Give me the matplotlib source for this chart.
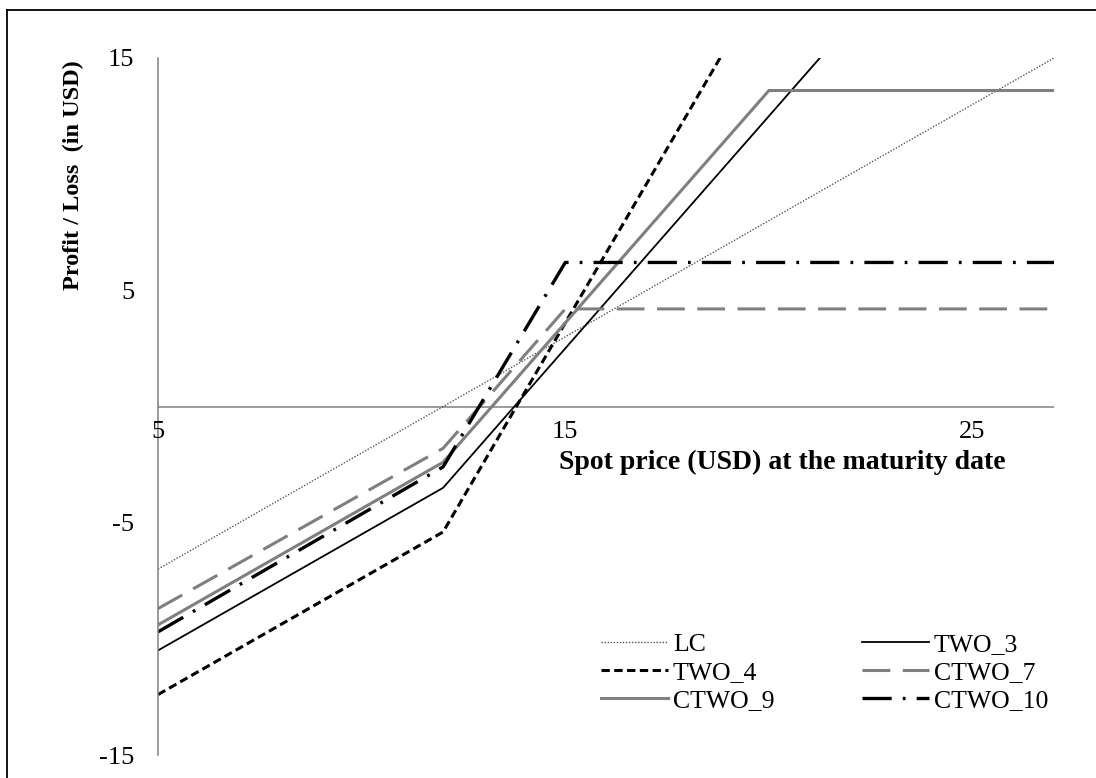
import matplotlib
matplotlib.use("Agg")
import matplotlib.pyplot as plt
from matplotlib.lines import Line2D

plt.rcParams['font.family'] = ['Liberation Serif', 'DejaVu Serif']
plt.rcParams['lines.scale_dashes'] = False

# Data
spot = [5, 12, 15, 20, 27]
lc = [-7.0, 0.0, 3.0, 8.0, 15.0]
two_3 = [-10.5, -3.5, 2.5, 12.5, 26.5]
two_4 = [-12.4, -5.4, 3.6, 18.6, 39.6]
ctwo_9 = [-9.4, -2.4, 3.6, 13.6, 13.6]
ctwo_7 = [-8.7, -1.8, 4.2, 4.2, 4.2]
ctwo_10 = [-9.7, -2.6, 6.2, 6.2, 6.2]
x_ticks = [5, 15, 25]
y_ticks = [15, 5, -5, -15]
labels = ["LC", "TWO_3", "TWO_4", "CTWO_7", "CTWO_9", "CTWO_10"]

W, H = 1096, 778
fig = plt.figure(figsize=(W / 100, H / 100), dpi=100)
ax = fig.add_axes([158 / W, 1 - 755 / H, (1054 - 158) / W, (755 - 58) / H])

gray = "#7f7f7f"
l_lc, = ax.plot(spot, lc, color="#555555", lw=1.0, linestyle=(0, (1.0, 1.2)), label=labels[0])
l_t3, = ax.plot(spot, two_3, color="black", lw=1.3, label=labels[1])
l_t4, = ax.plot(spot, two_4, color="black", lw=2.2, linestyle=(0, (6.0, 3.2)), label=labels[2])
l_c7, = ax.plot(spot, ctwo_7, color=gray, lw=2.2, linestyle=(0, (20.0, 9.0)), label=labels[3])
l_c9, = ax.plot(spot, ctwo_9, color=gray, lw=2.2, label=labels[4])
l_c10, = ax.plot(spot, ctwo_10, color="black", lw=2.4,
                 linestyle=(0, (21.0, 8.0, 2.0, 8.0)), label=labels[5])

ax.set_xlim(5, 27)
ax.set_ylim(-15, 15)

for s in ["top", "right", "bottom"]:
    ax.spines[s].set_visible(False)
ax.spines["left"].set_color(gray)
ax.spines["left"].set_linewidth(1.1)
ax.axhline(0, color=gray, lw=1.1, zorder=0)

ax.set_yticks(y_ticks)
ax.set_yticklabels([str(v) for v in y_ticks])
ax.tick_params(axis="y", length=0, pad=17, labelsize=19)
ax.set_xticks([])
for v in x_ticks:
    ax.text(v, -0.62, str(v), transform=ax.transData, ha="center", va="top",
            fontsize=19, clip_on=False)

fig.text(782 / W, 1 - 462 / H, "Spot price (USD) at the maturity date",
         ha="center", va="center", fontsize=20, fontweight="bold")
fig.text(73 / W, 1 - 175 / H, "Profit / Loss  (in USD)", rotation=90,
         ha="center", va="center", fontsize=17.5, fontweight="bold")

handles = [l_lc, l_t4, l_c9, l_t3, l_c7, l_c10]
leg = fig.legend(handles=handles, labels=[h.get_label() for h in handles],
                 ncol=2, frameon=False, loc="upper left",
                 bbox_to_anchor=(601 / W, 1 - 633 / H), fontsize=18.5,
                 handlelength=2.6, handletextpad=0.2, columnspacing=3.4,
                 labelspacing=0.19, borderpad=0, borderaxespad=0)

# figure border (left and top visible)
fig.add_artist(Line2D([7 / W, 7 / W], [0, 1 - 10 / H], color="black", lw=1.3,
                      transform=fig.transFigure))
fig.add_artist(Line2D([7 / W, 1], [1 - 10 / H, 1 - 10 / H], color="black", lw=1.3,
                      transform=fig.transFigure))

fig.savefig("out.png", dpi=100)
